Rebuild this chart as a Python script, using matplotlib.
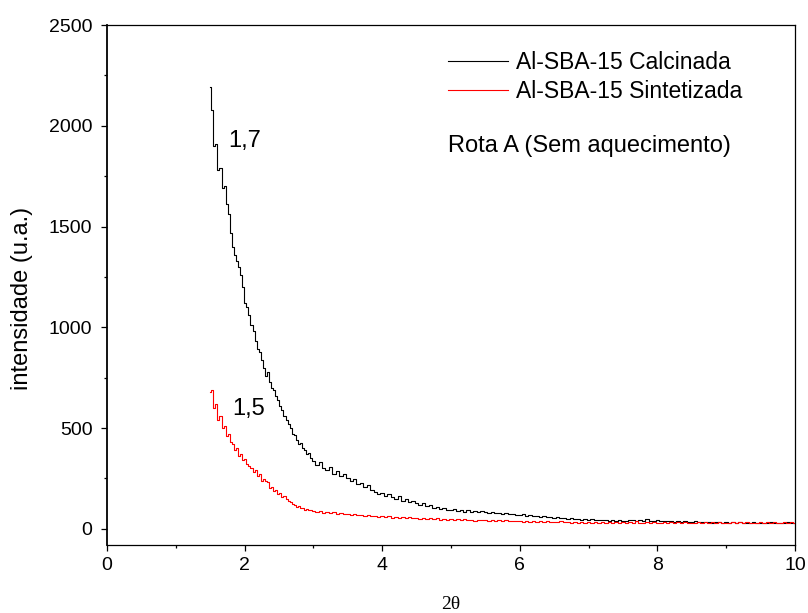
import numpy as np
import matplotlib
matplotlib.use("Agg")
import matplotlib.pyplot as plt
from matplotlib.ticker import MultipleLocator

plt.rcParams['font.family'] = ['Liberation Sans', 'DejaVu Sans']

# ---- data ----
# fine grid: starts 1.50, step 0.03 ; coarse grid: starts 3.00, step 0.05
fine_start, fine_step = 1.50, 0.03
coarse_start, coarse_step = 3.00, 0.05

calc_fine = [2190, 2080, 1900, 1910, 1780, 1790, 1690, 1700, 1610, 1560,
             1470, 1400, 1360, 1330, 1300, 1260, 1200, 1120, 1100, 1060,
             1010, 980, 930, 890, 880, 840, 800, 760, 780, 730,
             700, 690, 660, 640, 610, 590, 560, 540, 520, 500,
             470, 465, 440, 420, 425, 400, 390, 370, 375, 350]
calc_coarse = [335, 318, 330, 300, 290, 305, 272, 285, 262, 270, 250,
               238, 248, 222, 230, 210, 218, 195, 185, 172, 180,
               165, 175, 158, 150, 162, 140, 148, 132, 138, 128,
               120, 126, 112, 118, 106, 110, 100, 104, 96, 94,
               99, 90, 95, 86, 92, 84, 89, 82, 87, 84,
               80, 85, 77, 81, 74, 78, 72, 75, 70, 69,
               72, 66, 69, 62, 65, 60, 63, 57, 60, 55,
               58, 52, 55, 50, 53, 48, 51, 46, 49, 45,
               47, 43, 46, 42, 45, 41, 44, 40, 43, 41,
               39, 43, 46, 40, 44, 38, 48, 41, 39, 42,
               38, 41, 37, 40, 36, 39, 35, 38, 36, 34,
               37, 33, 36, 32, 35, 31, 34, 32, 30, 33,
               29, 32, 30, 33, 28, 31, 29, 32, 30, 28,
               31, 29, 33, 30, 27, 31, 29, 32, 30, 28, 30]

sint_fine = [680, 690, 600, 620, 540, 560, 500, 510, 460, 470,
             430, 420, 390, 400, 360, 370, 340, 345, 320, 310,
             300, 280, 290, 260, 270, 240, 245, 240, 235, 205,
             210, 190, 195, 175, 180, 160, 165, 150, 140, 135,
             125, 120, 110, 112, 102, 105, 96, 98, 92, 94]
sint_coarse = [90, 84, 88, 80, 85, 78, 82, 75, 79, 72, 76,
               70, 74, 68, 71, 65, 69, 63, 66, 60, 64,
               58, 63, 56, 60, 54, 59, 53, 57, 52, 56,
               50, 55, 49, 53, 47, 52, 46, 50, 45, 48,
               44, 48, 43, 47, 42, 46, 41, 45, 42, 44,
               40, 44, 39, 43, 38, 42, 37, 41, 39, 40,
               36, 40, 35, 39, 34, 38, 35, 37, 33, 36,
               34, 37, 32, 36, 31, 35, 30, 34, 31, 33,
               29, 33, 30, 34, 28, 32, 30, 35, 29, 33,
               30, 34, 28, 37, 31, 29, 33, 30, 35, 31,
               28, 33, 30, 34, 29, 32, 28, 33, 30, 31,
               29, 33, 30, 34, 28, 32, 30, 35, 29, 31,
               28, 32, 30, 34, 29, 33, 28, 31, 30, 33,
               29, 32, 30, 35, 31, 28, 33, 30, 34, 31, 32]

labels = ['Al-SBA-15 Calcinada', 'Al-SBA-15 Sintetizada']
colors = ['black', 'red']
xticks = [0, 2, 4, 6, 8, 10]
yticks = [0, 500, 1000, 1500, 2000, 2500]


def series(fine, coarse):
    xf = fine_start + fine_step * np.arange(len(fine))
    xc = coarse_start + coarse_step * np.arange(len(coarse))
    return np.concatenate([xf, xc]), np.concatenate([fine, coarse])


fig = plt.figure(figsize=(8.08, 6.13), dpi=100)
ax = fig.add_axes([107 / 808, 68 / 613, 688 / 808, 520 / 613])

for (f, c), lab, col in zip([(calc_fine, calc_coarse), (sint_fine, sint_coarse)], labels, colors):
    x, y = series(f, c)
    ax.plot(x, y, drawstyle='steps-mid', color=col, lw=0.8, label=lab)

ax.set_xlim(0, 10)
ax.set_ylim(-80, 2500)
ax.set_xticks(xticks)
ax.set_yticks(yticks)
ax.xaxis.set_minor_locator(MultipleLocator(1))
ax.yaxis.set_minor_locator(MultipleLocator(250))
ax.tick_params(which='major', direction='out', length=4.5, width=0.9, labelsize=14)
ax.tick_params(axis='y', which='major', pad=6)
ax.tick_params(axis='x', which='major', pad=4)
ax.tick_params(which='minor', direction='out', length=2.5, width=0.9)
for s in ax.spines.values():
    s.set_linewidth(0.9)
ax.spines['left'].set_linewidth(1.3)

ax.set_ylabel('intensidade (u.a.)', fontsize=17)
ax.yaxis.set_label_coords(-0.107, 0.475)
ax.set_xlabel('2θ', fontsize=14, family=['Liberation Serif', 'DejaVu Serif'], labelpad=16)

ax.legend(loc='upper left', bbox_to_anchor=(0.4956, 0.95), frameon=False,
          fontsize=16.5, handlelength=2.6, handletextpad=0.38, labelspacing=0.26,
          borderpad=0, borderaxespad=0)

ax.text(0.4956, 0.756, 'Rota A (Sem aquecimento)', transform=ax.transAxes,
        fontsize=17, ha='left', va='baseline')
ax.text(1.76, 1895, '1,7', fontsize=17, ha='left', va='baseline')
ax.text(1.82, 565, '1,5', fontsize=17, ha='left', va='baseline')

fig.savefig('out.png', dpi=100)
